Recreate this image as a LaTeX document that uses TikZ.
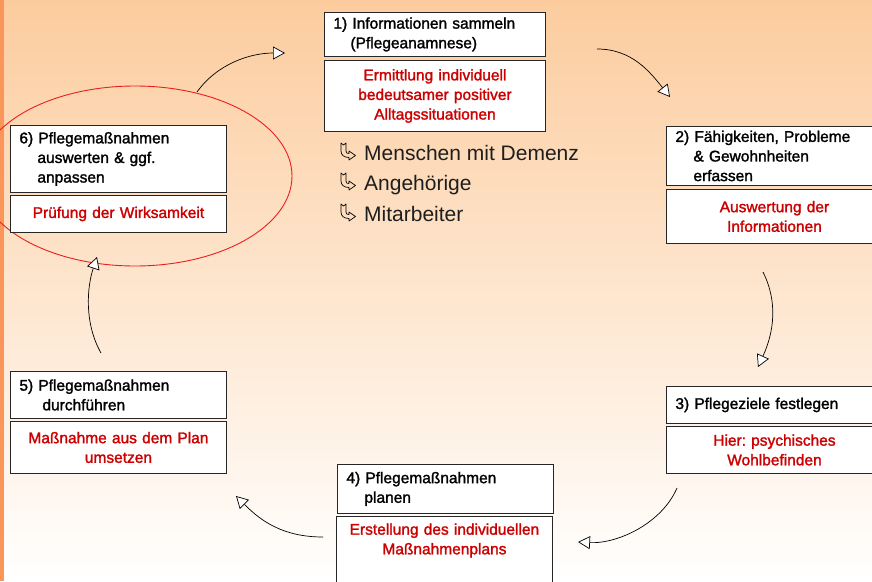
\documentclass[tikz,border=0pt]{standalone}
\usepackage{fontspec}
\setmainfont{Liberation Sans}
\newfontfamily\heavyfont[FakeBold=1.6]{Liberation Sans}
\usetikzlibrary{arrows.meta,positioning}
\definecolor{bgtop}{RGB}{252,204,158}
\definecolor{bgmid}{RGB}{254,230,211}
\definecolor{sidebar}{RGB}{250,150,90}
\definecolor{notered}{RGB}{204,0,0}
\definecolor{ringred}{RGB}{235,30,30}
\definecolor{listgray}{RGB}{30,30,30}
\newcommand{\boxfont}{\heavyfont\fontsize{15.5}{19.6}\selectfont\frenchspacing}
\newcommand{\listfont}{\fontsize{21}{25}\selectfont}
\tikzset{
  stepbox/.style={draw=black!85, fill=white, line width=0.9pt, anchor=north west,
    inner xsep=9pt, inner ysep=2pt, minimum width=216pt, text width=198pt, font=\boxfont},
  titlebox/.style={stepbox, align=left},
  notebox/.style={stepbox, align=center, text=notered},
  cyclearrow/.style={-{Triangle[width=13pt,length=12pt,fill=white]}, line width=0.7pt},
  listitem/.style={anchor=base west, inner sep=0pt, font=\listfont, text=listgray},
  hookicon/.pic={
    \draw[line width=0.7pt, line join=round]
      (1,0) -- (3.5,2) -- (6,0) -- (6,8) .. controls (6,10) and (7,10.5) .. (9,10.5)
      -- (9,8) -- (15.5,12.5) -- (9,17) -- (9,14.5) .. controls (4,14.5) and (1,12) .. (1,8) -- cycle;
  }
}
\begin{document}
\begin{tikzpicture}[x=1pt,y=-1pt]
\clip (0,0) rectangle (872,581);
% Background
\shade[top color=bgtop, middle color=bgmid, bottom color=white] (0,0) rectangle (872,581);
\fill[sidebar] (0,0) rectangle (4,581);
% Highlight of step 6
\draw[ringred, line width=0.9pt] (135,176) ellipse [x radius=157, y radius=90];
% Step 1
\node[titlebox, minimum width=221pt, text width=203pt, minimum height=44pt] (t1) at (324,12)
  {1) Informationen sammeln\\\hspace*{17pt}(Pflegeanamnese)};
\node[notebox, minimum width=221pt, text width=203pt, minimum height=71pt] (n1) at (324,60)
  {Ermittlung individuell\\bedeutsamer positiver\\Alltagssituationen};
% Step 2
\node[titlebox, minimum height=59pt] (t2) at (666,126)
  {2) Fähigkeiten, Probleme\\\hspace*{18pt}\& Gewohnheiten\\\hspace*{18pt}erfassen};
\node[notebox, minimum height=54pt] (n2) at (666,189)
  {Auswertung der\\Informationen};
% Step 3
\node[titlebox, minimum height=37pt] (t3) at (666,386)
  {3) Pflegeziele festlegen};
\node[notebox, minimum height=47pt] (n3) at (666,426)
  {Hier: psychisches\\Wohlbefinden};
% Step 4
\node[titlebox, minimum height=49pt] (t4) at (337,464)
  {4) Pflegemaßnahmen\\\hspace*{18pt}planen};
\node[notebox, inner ysep=7pt] (n4) at (336,516)
  {Erstellung des individuellen\\Maßnahmenplans\par\vspace*{30pt}};
% Step 5
\node[titlebox, minimum height=47pt] (t5) at (10,371)
  {5) Pflegemaßnahmen\\\hspace*{23pt}durchführen};
\node[notebox, minimum height=52pt] (n5) at (10,421)
  {Maßnahme aus dem Plan\\umsetzen};
% Step 6
\node[titlebox, minimum height=67pt] (t6) at (10,125)
  {6) Pflegemaßnahmen\\\hspace*{18pt}auswerten \& ggf.\\\hspace*{18pt}anpassen};
\node[notebox, minimum height=37pt] (n6) at (10,195)
  {Prüfung der Wirksamkeit};
% Who is asked
\pic at (340,143) {hookicon};
\node[listitem] (who1) at (364,160) {Menschen mit Demenz};
\pic at (340,173) {hookicon};
\node[listitem] (who2) at (364,190) {Angehörige};
\pic at (340,204) {hookicon};
\node[listitem] (who3) at (364,221) {Mitarbeiter};
% Cycle arrows
\coordinate (a1s) at (197,92);  \coordinate (a1e) at (285,53);
\coordinate (a2s) at (597,49);  \coordinate (a2e) at (670,97);
\coordinate (a3s) at (763,272); \coordinate (a3e) at (758,367);
\coordinate (a4s) at (677,488); \coordinate (a4e) at (578,542);
\coordinate (a5s) at (323,537); \coordinate (a5e) at (236,496);
\coordinate (a6s) at (101,353); \coordinate (a6e) at (97,257);
\draw[cyclearrow] (a1s) .. controls +(20,-28) and +(-35,0) .. (a1e);
\draw[cyclearrow] (a2s) .. controls +(35,0) and +(-20,-25) .. (a2e);
\draw[cyclearrow] (a3s) .. controls +(15,30) and +(16,-35) .. (a3e);
\draw[cyclearrow] (a4s) .. controls +(-15,35) and +(40,2) .. (a4e);
\draw[cyclearrow] (a5s) .. controls +(-40,0) and +(25,25) .. (a5e);
\draw[cyclearrow] (a6s) .. controls +(-17,-30) and +(-10,30) .. (a6e);
\end{tikzpicture}
\end{document}
